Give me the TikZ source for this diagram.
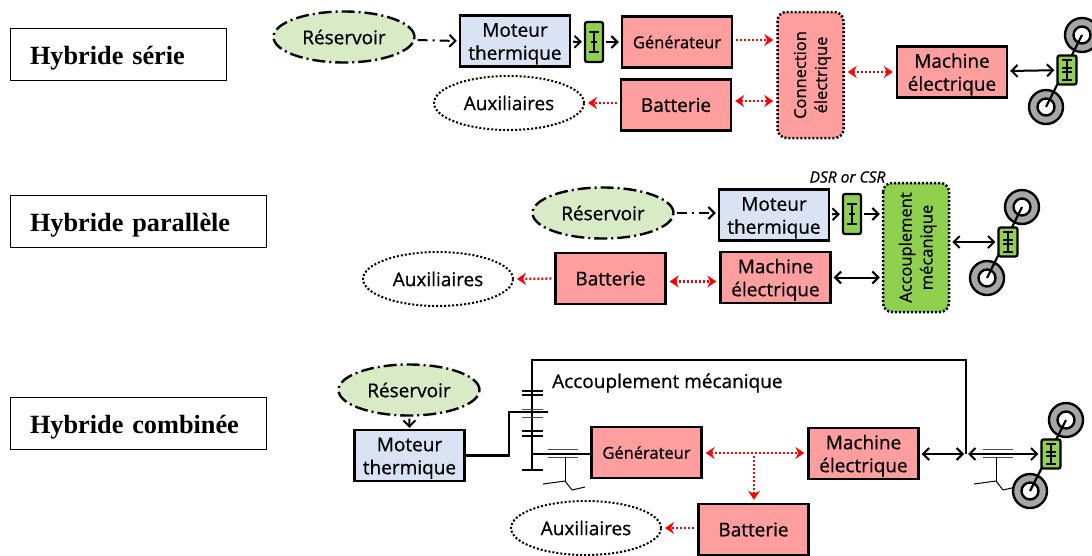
\documentclass[tikz,border=0pt]{standalone}
\usepackage{fontspec}
\setmainfont[FakeBold=0.7]{Open Sans}
\newfontfamily\titlefont{Liberation Serif}
\usetikzlibrary{arrows.meta,shapes.geometric}
\definecolor{tankgreen}{HTML}{D9EBC6}
\definecolor{motorblue}{HTML}{DAE3F3}
\definecolor{elecpink}{HTML}{FF9E9E}
\definecolor{mechgreen}{HTML}{8FD14F}
\definecolor{tyregrey}{HTML}{A6A6A6}
\begin{document}
\begin{tikzpicture}
  [x=1pt,y=-1pt,
   txt/.style={font=\fontsize{19}{23}\selectfont,align=center},
   twolines/.style={execute at begin node={\rule{0pt}{#1}}},
   titlebox/.style={draw,line width=1pt,minimum height=52pt,inner xsep=20pt,align=left,twolines=26pt,font=\titlefont\bfseries\fontsize{26.3}{30}\selectfont},
   block/.style={txt,draw,line width=2.4pt,minimum width=110pt,minimum height=51pt,inner sep=0pt},
   motor/.style={block,twolines=42pt,fill=motorblue},
   elec/.style={block,fill=elecpink},
   machine/.style={elec,twolines=42pt},
   tank/.style={txt,ellipse,draw,fill=tankgreen,line width=2.4pt,dash pattern=on 13pt off 4pt on 2pt off 4pt,minimum width=141pt,minimum height=51pt,inner sep=0pt},
   aux/.style={txt,ellipse,draw,line width=2pt,dash pattern=on 2pt off 2pt,minimum width=150pt,minimum height=54pt,inner sep=0pt},
   hubbox/.style={txt,twolines=37pt,font=\fontsize{16.5}{21}\selectfont,rotate=90,rounded corners=9pt,draw,line width=2.5pt,dash pattern=on 2pt off 2pt,inner sep=0pt},
   gearbox/.style={draw,fill=mechgreen,rounded corners=2pt,line width=2.2pt,minimum width=18pt,minimum height=40pt,inner sep=0pt},
   axlebox/.style={gearbox,minimum width=19pt,minimum height=29pt},
   wheel/.style={circle,draw,fill=tyregrey,line width=2.4pt,minimum size=34pt,inner sep=0pt},
   hub/.style={circle,draw,fill=white,line width=2.4pt,minimum size=17pt,inner sep=0pt},
   mech/.style={line width=2pt,-{Straight Barb[length=6pt,width=12pt]},shorten <=2pt,shorten >=2pt},
   link/.style={mech,{Straight Barb[length=6pt,width=12pt]}-{Straight Barb[length=6pt,width=12pt]}},
   fuel/.style={mech,dash pattern=on 10pt off 5pt on 2pt off 5pt},
   flow/.style={red,line width=2.3pt,dash pattern=on 2pt off 2pt,-{Stealth[length=9pt,width=12pt,inset=3pt]},shorten <=3pt,shorten >=3pt},
   power/.style={flow,{Stealth[length=9pt,width=12pt,inset=3pt]}-{Stealth[length=9pt,width=12pt,inset=3pt]}},
   shaft/.style={line width=2.2pt},
   bar/.style={line width=1pt,black!70},
   stem/.style={line width=1pt}]
  \useasboundingbox (0,0) rectangle (1092,555);

  % hybride serie
  \node[titlebox,text width=176pt] (titleA) at (118,54) {Hybride série};
  \node[tank] (tankA) at (344,37) {Réservoir};
  \node[motor] (motorA) at (515,41) {Moteur\\thermique};
  \node[gearbox] (gearA) at (594,42) {};
  \node[elec,font=\fontsize{16.5}{20}\selectfont] (genA) at (677,42) {Générateur};
  \node[elec] (batA) at (676,105) {Batterie};
  \node[aux] (auxA) at (509,103) {Auxiliaires};
  \node[hubbox,fill=elecpink,minimum width=126pt,minimum height=66pt] (connA) at (810.5,75) {Connection\\électrique};
  \node[machine] (machA) at (952,72) {Machine\\électrique};
  \draw[fuel] ([yshift=-3pt]tankA.east) -- (motorA.west);
  \draw[mech] (motorA) -- (gearA);
  \draw[mech] (gearA) -- (genA);
  \draw[flow] ([yshift=2pt]genA.east) -- ([yshift=2pt]genA.east -| connA.north);
  \draw[power] ([yshift=4pt]batA.east) -- ([yshift=4pt]batA.east -| connA.north);
  \draw[flow] ([yshift=2pt]batA.west) -- (auxA.east);
  \draw[power] (connA.south |- machA) -- (machA.west);

  % hybride parallele
  \node[titlebox,text width=216pt] (titleB) at (138,221) {Hybride parallèle};
  \node[tank] (tankB) at (603,213) {Réservoir};
  \node[motor] (motorB) at (774,215) {Moteur\\thermique};
  \node[gearbox] (gearB) at (852,214) {};
  \node[font=\itshape\fontsize{15.5}{18}\selectfont] (dsrB) at (847.5,177) {DSR or CSR};
  \node[hubbox,fill=mechgreen,minimum width=129pt,minimum height=66pt] (acpB) at (916,247.5) {Accouplement\\mécanique};
  \node[machine] (machB) at (775.5,277.5) {Machine\\électrique};
  \node[elec] (batB) at (610.5,278.5) {Batterie};
  \node[aux] (auxB) at (438,279) {Auxiliaires};
  \draw[fuel] (tankB.east) -- (tankB.east -| motorB.west);
  \draw[mech] (motorB) -- (gearB);
  \draw[mech] (gearB) -- (gearB -| acpB.north);
  \draw[link] (machB) -- (machB -| acpB.north);
  \draw[power] ([yshift=-3pt]batB.east) -- ([yshift=-3pt]batB.east -| machB.west);
  \draw[flow] (batB.west) -- (auxB.east);

  % hybride combinee
  \node[titlebox,text width=216pt] (titleC) at (138,423) {Hybride combinée};
  \node[tank] (tankC) at (409,390) {Réservoir};
  \node[motor] (motorC) at (409.5,455.5) {Moteur\\thermique};
  \node[txt,anchor=west,inner sep=0pt] (acpC) at (552,383) {Accouplement mécanique};
  \node[elec,font=\fontsize{16.5}{20}\selectfont] (genC) at (646.5,452.5) {Générateur};
  \node[machine] (machC) at (863.5,453.5) {Machine\\électrique};
  \node[elec] (batC) at (753.5,529.5) {Batterie};
  \node[aux] (auxC) at (586,528) {Auxiliaires};
  \coordinate (topL) at (532,360);
  \coordinate (topR) at (966,360);
  \coordinate (jointR) at (966,454);
  \coordinate (jointL) at (532,454);
  \coordinate (bottomL) at (532,470);
  \coordinate (tee) at (754,453);
  \draw[mech,shorten >=1pt] (tankC) -- (motorC.north);
  \draw[shaft] (motorC.east) -- (509,455.5) -- (509,412) -- (548,412);
  \draw[shaft] (bottomL) -- (topL) -- (topR) -- (jointR);
  \draw[line width=1.4pt] (jointL) -- (jointL -| genC.west);
  \foreach \y in {391,395,431,436,470}
    \draw[shaft] (522,\y) -- (543,\y);
  \foreach \y in {409,417}
    \draw[bar] (522,\y) -- (543,\y);
  \foreach \x/\y in {548/449,548/457,983/449,983/457}
    \draw[bar] (\x,\y) -- ++(30,0);
  \foreach \x in {565,996} {
    \draw[stem] (\x,457) -- (\x,482);
    \draw[stem] (\x-22,484) -- (\x,481) -- (\x+7,490) -- (\x+20,487);
  }
  \draw[link] (machC.east |- jointR) -- (jointR);
  \draw[power] (tee -| genC.east) -- (tee -| machC.west);
  \draw[flow] (tee) -- (tee |- batC.north);
  \draw[flow] (batC.west |- auxC) -- (auxC.east);

  % roues et reducteurs
  \foreach \name/\x/\y in {wheelAt/1082/35,wheelAb/1046/107,wheelBt/1022/207,wheelBb/987/278,wheelCt/1066/420,wheelCb/1030/491} {
    \node[wheel] (\name) at (\x,\y) {};
    \node[hub] at (\name) {};
  }
  \draw[shaft] (wheelAt.center) -- (wheelAb.center);
  \draw[shaft] (wheelBt.center) -- (wheelBb.center);
  \draw[shaft] (wheelCt.center) -- (wheelCb.center);
  \node[axlebox] (gearAw) at (1067,70) {};
  \node[axlebox] (gearBw) at (1008,242) {};
  \node[axlebox] (gearCw) at (1051,454) {};
  \draw[link] (machA) -- (gearAw);
  \draw[link] (acpB.south |- gearBw) -- (gearBw);
  \draw[link] (jointR) -- (gearCw);
  \foreach \gear in {gearA,gearB,gearAw,gearBw,gearCw} {
    \draw[line width=1.8pt] ([yshift=10pt]\gear.center) -- ([yshift=-10pt]\gear.center);
    \draw[line width=1.8pt] ([xshift=-5pt,yshift=10pt]\gear.center) -- ([xshift=5pt,yshift=10pt]\gear.center);
    \draw[line width=1.8pt] ([xshift=-5pt,yshift=-10pt]\gear.center) -- ([xshift=5pt,yshift=-10pt]\gear.center);
  }
  \foreach \gear in {gearA,gearB}
    \draw[line width=1.2pt] ([xshift=-3pt]\gear.center) -- ([xshift=3pt]\gear.center);
  \foreach \gear in {gearAw,gearBw,gearCw} {
    \draw[line width=1.2pt] ([xshift=-5pt,yshift=2pt]\gear.center) -- ([xshift=5pt,yshift=2pt]\gear.center);
    \draw[line width=1.2pt] ([xshift=-5pt,yshift=-2pt]\gear.center) -- ([xshift=5pt,yshift=-2pt]\gear.center);
  }
\end{tikzpicture}
\end{document}
